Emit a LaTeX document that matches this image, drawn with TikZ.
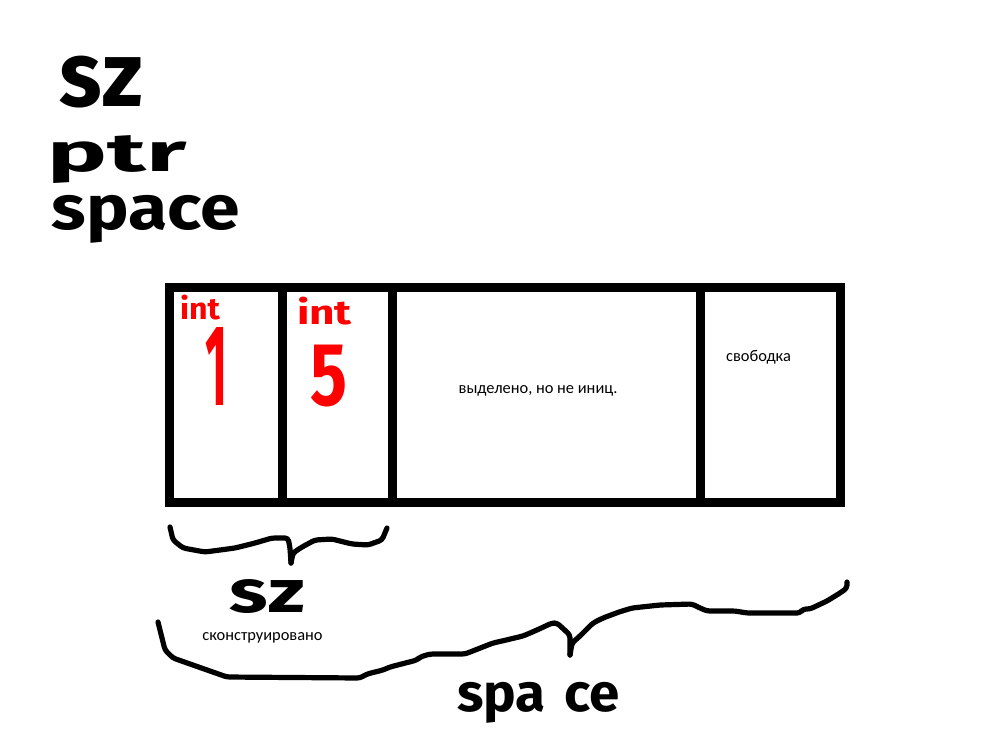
\documentclass[tikz,border=0pt]{standalone}
\usepackage{fontspec}
\setmainfont{Carlito}
\newfontfamily\hand{Fira Sans}
\usepackage{graphicx}
\begin{document}
\begin{tikzpicture}[x=0.5pt,y=-0.5pt, line join=round, line cap=round,
  box/.style={line width=4.5pt, draw=black, line join=miter, line cap=butt},
  brace/.style={line width=2.6pt, rounded corners=1.5pt},
  note/.style={font=\fontsize{8.2}{9}\selectfont, inner sep=0pt},
  hw/.style={inner sep=0pt, text=black},
  hwred/.style={inner sep=0pt, text=red}]
\useasboundingbox (0,0) rectangle (1000,750);
\fill[white] (0,0) rectangle (1000,750);

% handwritten legend
\node[hw] (lsz) at (101.5,82) {\resizebox*{41.5pt}{26pt}{\hand\bfseries sz}};
\node[hw] (lptr) at (117.5,160) {\resizebox*{69.5pt}{24pt}{\hand\bfseries ptr}};
\node[hw] (lspace) at (146,219) {\resizebox*{94pt}{24pt}{\hand\bfseries space}};

% memory block
\draw[box] (169.5,287.5) rectangle (840.5,502.5);
\draw[box] (282.5,287.5) -- (282.5,502.5);
\draw[box] (392.5,287.5) -- (392.5,502.5);
\draw[box] (700.5,287.5) -- (700.5,502.5);

% cell contents
\node[hwred] (int1) at (200,308) {\resizebox*{20pt}{12.5pt}{\hand\bfseries int}};
\node[hwred] (int2) at (324.5,311.5) {\resizebox*{27.5pt}{14pt}{\hand\bfseries int}};
\node[hwred] (one) at (216,366) {\resizebox*{11pt}{39pt}{\hand\bfseries 1}};
\node[hwred] (five) at (328.5,376) {\resizebox*{18.5pt}{31pt}{\hand\bfseries 5}};
\node[note] (alloc) at (538,391) {выделено, но не иниц.};
\node[note] (free) at (758.5,357) {свободка};

% top brace (sz)
\draw[brace] (170,527) -- (173,540) -- (183,548) -- (205,552) -- (235,548) -- (255,543) -- (272,538) -- (288,538) -- (290,548) -- (291,563);
\draw[brace] (291,563) -- (293,553) -- (302,547) -- (315,540) -- (332,539) -- (352,544) -- (368,545) -- (382,540) -- (387,528);
\node[hw] (bsz) at (267.5,597) {\resizebox*{37.5pt}{17pt}{\hand\bfseries sz}};
\node[note] (constr) at (262.5,638) {сконструировано};

% bottom brace (space)
\draw[brace] (158,622) -- (165,650) -- (173,658) -- (227,677) -- (360,678) -- (367,674) -- (383,670) -- (390,667) -- (417,660) -- (420,657) -- (430,654) -- (465,654) -- (493,643) -- (502,641) -- (523,636) -- (537,630) -- (552,623) -- (557,623) -- (570,635) -- (570,655);
\draw[brace] (570,655) -- (572,643) -- (580,636) -- (593,623) -- (603,618) -- (619,612) -- (632,608) -- (660,605) -- (692,604) -- (700,608) -- (707,611) -- (735,611) -- (747,613) -- (800,613) -- (803,609) -- (810,609) -- (827,601) -- (840,593) -- (847,588) -- (847,582);
\node[hw] (bspace) at (538.5,702.5) {\resizebox*{81.5pt}{20.5pt}{\hand\bfseries spa\kern0.35em ce}};
\end{tikzpicture}
\end{document}
